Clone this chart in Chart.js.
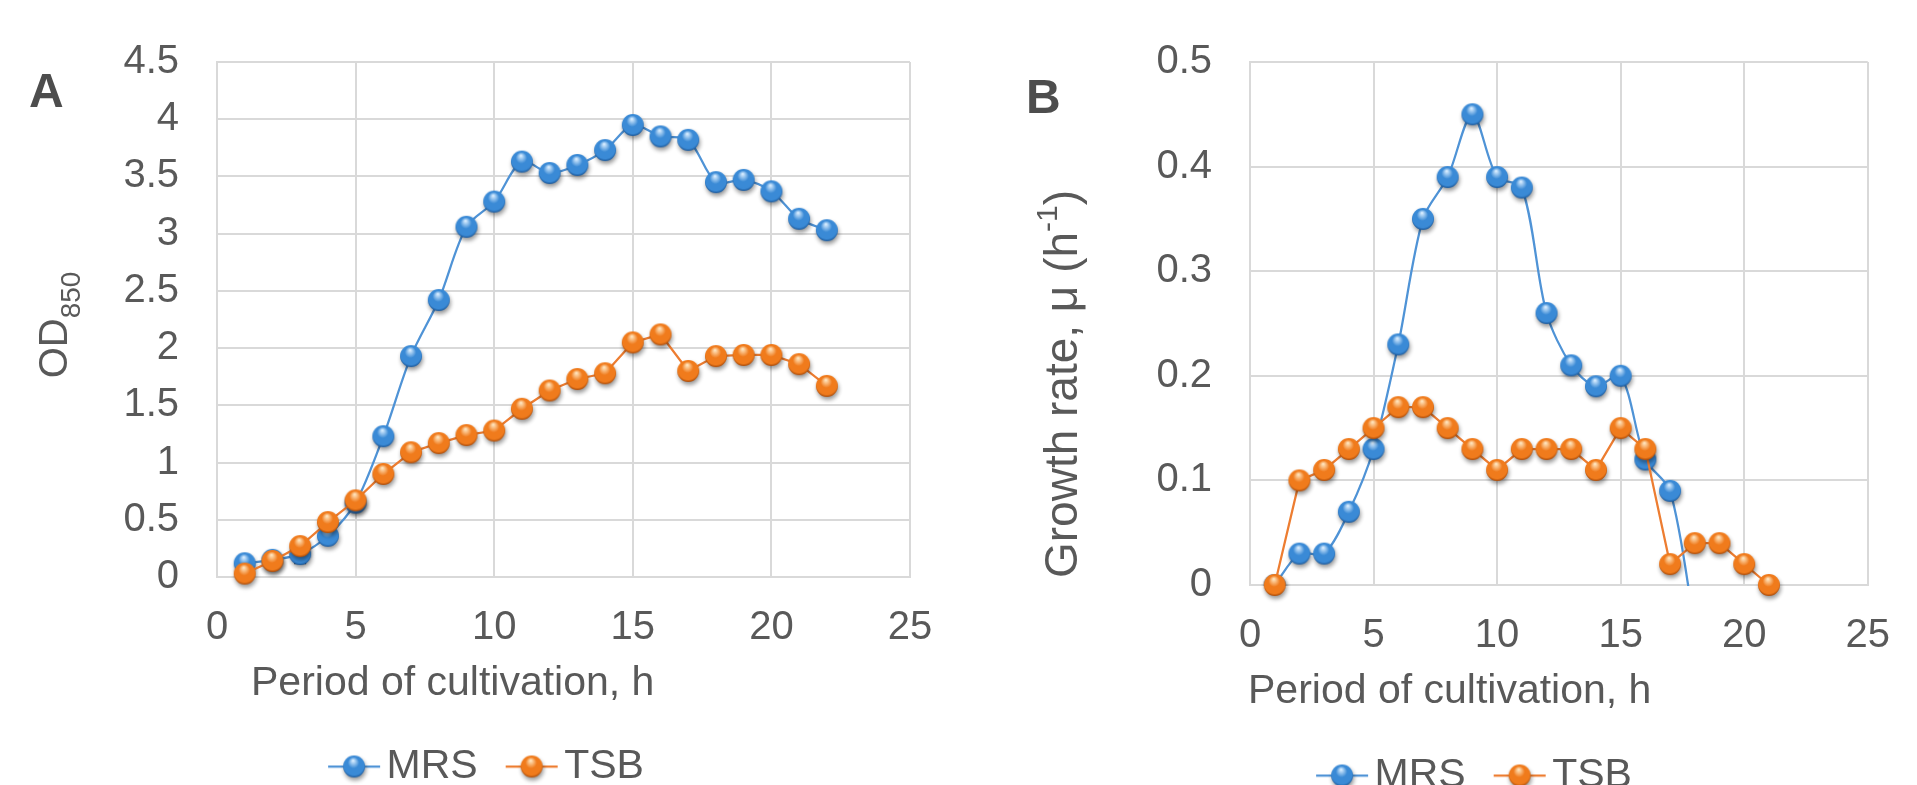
<!DOCTYPE html>
<html>
<head>
<meta charset="utf-8">
<title>Growth of cultures in MRS and TSB</title>
<script src="https://cdn.jsdelivr.net/npm/chart.js@4.4.1/dist/chart.umd.min.js"></script>
<style>
  html, body { margin: 0; padding: 0; background: #fff; overflow: hidden; }
  #wrap { position: relative; width: 1917px; height: 785px; overflow: hidden; }
  canvas { position: absolute; top: 0; }
  #chartA { left: 0; }
  #chartB { left: 960px; }
</style>
</head>
<body>
<div id="wrap">
  <canvas id="chartA" width="960" height="820"></canvas>
  <canvas id="chartB" width="957" height="820"></canvas>
</div>
<script>
// ── Data ───────────────────────────────────────────────────────────────────
const xTicks  = [0, 5, 10, 15, 20, 25];
const yTicksA = [0, 0.5, 1, 1.5, 2, 2.5, 3, 3.5, 4, 4.5];
const yTicksB = [0, 0.1, 0.2, 0.3, 0.4, 0.5];

// A: optical density
const hoursA = [1, 2, 3, 4, 5, 6, 7, 8, 9, 10, 11, 12, 13, 14, 15, 16, 17, 18, 19, 20, 21, 22];
const odMRS  = [0.12, 0.15, 0.20, 0.36, 0.65, 1.23, 1.93, 2.42, 3.06, 3.28, 3.63, 3.53, 3.60, 3.73, 3.95, 3.85, 3.82, 3.45, 3.47, 3.37, 3.13, 3.03];
const odTSB  = [0.03, 0.14, 0.27, 0.48, 0.67, 0.90, 1.09, 1.17, 1.24, 1.28, 1.47, 1.63, 1.73, 1.78, 2.05, 2.12, 1.80, 1.93, 1.94, 1.94, 1.86, 1.67];
const errMRS = [0, 0, 0.08, 0, 0, 0, 0, 0, 0, 0, 0, 0, 0, 0, 0, 0, 0, 0, 0, 0, 0, 0];

// B: specific growth rate
const hoursB = [1, 2, 3, 4, 5, 6, 7, 8, 9, 10, 11, 12, 13, 14, 15, 16, 17, 18, 19, 20, 21];
const muMRS  = [0, 0.03, 0.03, 0.07, 0.13, 0.23, 0.35, 0.39, 0.45, 0.39, 0.38, 0.26, 0.21, 0.19, 0.20, 0.12, 0.09, -0.04];
const muTSB  = [0, 0.10, 0.11, 0.13, 0.15, 0.17, 0.17, 0.15, 0.13, 0.11, 0.13, 0.13, 0.13, 0.11, 0.15, 0.13, 0.02, 0.04, 0.04, 0.02, 0];

// ── Look ───────────────────────────────────────────────────────────────────
const FONT = '"Liberation Sans", Arial, sans-serif';
const C = {
  text:   "#595959",
  letter: "#4d4d4d",
  grid:   "#d9d9d9",
  blue:   "#4f93d6",
  orange: "#ed7d31",
};

// Excel-style shaded ball marker, optionally with a line through it (legend)
function ball(base, light, dark, lineColor) {
  const w = lineColor ? 54 : 38, h = 38;
  const c = document.createElement("canvas");
  c.width = w; c.height = h;
  const g = c.getContext("2d");
  const cx = w / 2, cy = h / 2, r = 11;
  if (lineColor) {
    g.strokeStyle = lineColor; g.lineWidth = 2.25;
    g.beginPath(); g.moveTo(1, cy); g.lineTo(w - 1, cy); g.stroke();
  }
  g.save();
  g.shadowColor = "rgba(0,0,0,0.4)";
  g.shadowBlur = 4; g.shadowOffsetX = 1; g.shadowOffsetY = 3;
  const grad = g.createRadialGradient(cx - 1, cy - 6, 0.5, cx, cy - 1, r + 1);
  grad.addColorStop(0, light);
  grad.addColorStop(0.45, base);
  grad.addColorStop(0.85, base);
  grad.addColorStop(1, dark);
  g.fillStyle = grad;
  g.beginPath(); g.arc(cx, cy, r, 0, Math.PI * 2); g.fill();
  g.restore();
  return c;
}

const BALL = {
  blue:   ball("#3a8ad6", "#d6ecff", "#1b5798"),
  orange: ball("#f07b1c", "#ffe4bc", "#a94a08"),
};
const KEY = {
  MRS: ball("#3a8ad6", "#d6ecff", "#1b5798", C.blue),
  TSB: ball("#f07b1c", "#ffe4bc", "#a94a08", C.orange),
};

// Free text: panel letters and axis titles with sub/superscripts
function textPlugin(items) {
  return {
    id: "freeText",
    afterDraw(chart) {
      const ctx = chart.ctx;
      for (const it of items) {
        ctx.save();
        ctx.fillStyle = it.color || C.text;
        ctx.textBaseline = "alphabetic";
        ctx.textAlign = "left";
        let total = 0;
        for (const p of it.parts) {
          ctx.font = `${p.weight || "normal"} ${p.size}px ${FONT}`;
          p.w = ctx.measureText(p.text).width;
          total += p.w;
        }
        ctx.translate(it.x, it.y);
        if (it.rot) ctx.rotate(it.rot);
        let cx = it.center ? -total / 2 : 0;
        for (const p of it.parts) {
          ctx.font = `${p.weight || "normal"} ${p.size}px ${FONT}`;
          ctx.fillText(p.text, cx, p.dy || 0);
          cx += p.w;
        }
        ctx.restore();
      }
    },
  };
}

// Small I-shaped error bars under the markers
const errorBars = {
  id: "errorBars",
  beforeDatasetsDraw(chart, args, opts) {
    if (!opts || !opts.errors) return;
    const meta = chart.getDatasetMeta(opts.datasetIndex);
    const y = chart.scales.y;
    const ctx = chart.ctx;
    const vals = chart.data.datasets[opts.datasetIndex].data;
    ctx.save();
    ctx.strokeStyle = "#404040";
    ctx.lineWidth = 2;
    opts.errors.forEach((e, i) => {
      if (!e) return;
      const pt = meta.data[i];
      const top = y.getPixelForValue(vals[i].y + e);
      const bot = y.getPixelForValue(vals[i].y - e);
      ctx.beginPath();
      ctx.moveTo(pt.x, top); ctx.lineTo(pt.x, bot);
      ctx.moveTo(pt.x - 6, top); ctx.lineTo(pt.x + 6, top);
      ctx.moveTo(pt.x - 6, bot); ctx.lineTo(pt.x + 6, bot);
      ctx.stroke();
    });
    ctx.restore();
  },
};

function points(xs, ys) {
  return ys.map((v, i) => ({ x: xs[i], y: v }));
}

function series(label, data, color, ballImg, tension, order, clip) {
  return {
    label, data, order, clip,
    borderColor: color,
    backgroundColor: color,
    borderWidth: 2.25,
    tension,
    pointStyle: ballImg,
    pointRadius: 10,
    pointHoverRadius: 10,
  };
}

function scales(yTicks, yMax, yWidth, xHeight) {
  return {
    x: {
      type: "linear", min: 0, max: 25,
      afterBuildTicks: (s) => { s.ticks = xTicks.map((v) => ({ value: v })); },
      afterFit: (s) => { s.height = xHeight; },
      ticks: { color: C.text, font: { family: FONT, size: 40 }, padding: 27,
               maxRotation: 0, autoSkip: false, callback: (v) => String(v) },
      grid: { color: C.grid, lineWidth: 2, drawTicks: false },
      border: { color: C.grid, width: 2 },
    },
    y: {
      min: 0, max: yMax,
      afterBuildTicks: (s) => { s.ticks = yTicks.map((v) => ({ value: v })); },
      afterFit: (s) => { s.width = yWidth; },
      ticks: { color: C.text, font: { family: FONT, size: 40 }, padding: 38,
               autoSkip: false, callback: (v) => String(v) },
      grid: { color: C.grid, lineWidth: 2, drawTicks: false },
      border: { color: C.grid, width: 2 },
    },
  };
}

const legendOpts = {
  position: "bottom",
  labels: {
    color: C.text,
    font: { family: FONT, size: 41 },
    usePointStyle: true,
    pointStyleWidth: 24,
    padding: 42,
    sort: (a, b) => a.datasetIndex - b.datasetIndex,
    generateLabels: (chart) =>
      Chart.defaults.plugins.legend.labels.generateLabels(chart).map((l) => {
        l.pointStyle = KEY[l.text];
        return l;
      }),
  },
};

// ── Panel A: OD850 ─────────────────────────────────────────────────────────
new Chart(document.getElementById("chartA"), {
  type: "line",
  data: {
    datasets: [
      series("MRS", points(hoursA, odMRS), C.blue, BALL.blue, 0.3, 2, false),
      series("TSB", points(hoursA, odTSB), C.orange, BALL.orange, 0, 1, false),
    ],
  },
  options: {
    responsive: false,
    animation: false,
    events: [],
    layout: { padding: { left: 76, right: 50, top: 56, bottom: 23 } },
    scales: scales(yTicksA, 4.5, 141, 127),
    plugins: {
      legend: legendOpts,
      tooltip: { enabled: false },
      errorBars: { datasetIndex: 0, errors: errMRS },
    },
  },
  plugins: [
    errorBars,
    textPlugin([
      { x: 29, y: 107, color: C.letter, parts: [{ text: "A", size: 48, weight: "bold" }] },
      { x: 67, y: 325, rot: -Math.PI / 2, center: true,
        parts: [{ text: "OD", size: 40 }, { text: "850", size: 28, dy: 13 }] },
      { x: 251, y: 695, parts: [{ text: "Period of cultivation, h", size: 41 }] },
    ]),
  ],
});

// ── Panel B: growth rate ───────────────────────────────────────────────────
new Chart(document.getElementById("chartB"), {
  type: "line",
  data: {
    datasets: [
      series("MRS", points(hoursB, muMRS), C.blue, BALL.blue, 0.3, 2, 1),
      series("TSB", points(hoursB, muTSB), C.orange, BALL.orange, 0, 1, false),
    ],
  },
  options: {
    responsive: false,
    animation: false,
    events: [],
    layout: { padding: { left: 112, right: 27, top: 61, bottom: 14 } },
    scales: scales(yTicksB, 0.5, 178, 128),
    plugins: {
      legend: legendOpts,
      tooltip: { enabled: false },
    },
  },
  plugins: [
    textPlugin([
      { x: 66, y: 113, color: C.letter, parts: [{ text: "B", size: 48, weight: "bold" }] },
      { x: 117, y: 384, rot: -Math.PI / 2, center: true,
        parts: [{ text: "Growth rate, μ (h", size: 46 }, { text: "-1", size: 30, dy: -20 }, { text: ")", size: 46 }] },
      { x: 288, y: 703, parts: [{ text: "Period of cultivation, h", size: 41 }] },
    ]),
  ],
});
</script>
</body>
</html>
